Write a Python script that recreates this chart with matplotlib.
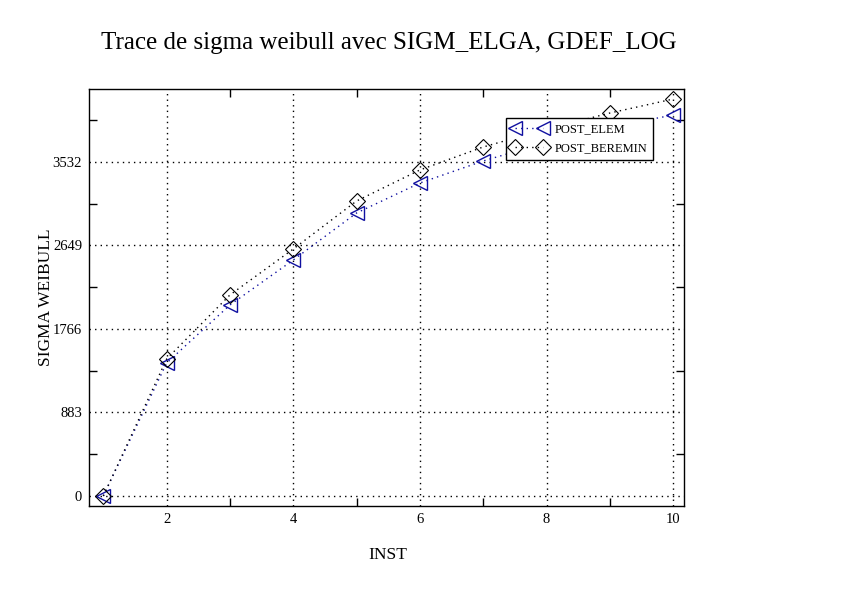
import matplotlib
matplotlib.use("Agg")
import matplotlib.pyplot as plt
from matplotlib.ticker import FixedLocator

plt.rcParams['font.family'] = ['Liberation Serif', 'DejaVu Serif']

inst = [1, 2, 3, 4, 5, 6, 7, 8, 9, 10]
post_elem = [0, 1406, 2020, 2496, 2993, 3310, 3543, 3740, 3900, 4029]
post_beremin = [0, 1449, 2126, 2612, 3120, 3448, 3691, 3880, 4050, 4198]
yticks = [0, 883, 1766, 2649, 3532]
ytick_labels = ["0", "883", "1766", "2649", "3532"]
xticks = [2, 4, 6, 8, 10]

fig = plt.figure(figsize=(8.42, 5.95), dpi=100)
ax = fig.add_axes([89/842, 1-506/595, (684-89)/842, (506-89)/595])

blue = '#1010a0'
ax.plot(inst, post_elem, linestyle=(0, (1, 3)), color=blue, lw=1.0,
        marker='<', markersize=10, markerfacecolor='none', markeredgecolor=blue,
        markeredgewidth=1.0, label='POST_ELEM')
ax.plot(inst, post_beremin, linestyle=(0, (1, 3)), color='black', lw=1.0,
        marker='D', markersize=8, markerfacecolor='none', markeredgecolor='black',
        markeredgewidth=0.8, label='POST_BEREMIN')

ax.set_xlim(0.774, 10.17)
ax.set_ylim(-106, 4304)
ax.set_xticks(xticks)
ax.set_yticks(yticks)
ax.set_yticklabels(ytick_labels)
ax.xaxis.set_minor_locator(FixedLocator([3, 5, 7, 9]))
ax.yaxis.set_minor_locator(FixedLocator([441.5, 1324.5, 2207.5, 3090.5, 3973.5]))
ax.tick_params(which='major', length=0, labelsize=10.5, pad=5)
ax.tick_params(which='minor', direction='in', length=6, width=1, top=True, right=True)
ax.grid(True, which='major', linestyle=(0, (1, 3)), color='black', lw=1.0)
for s in ax.spines.values():
    s.set_linewidth(1.0)

ax.set_xlabel('INST', fontsize=12.5)
ax.set_ylabel('SIGMA WEIBULL', fontsize=12.5)
ax.xaxis.set_label_coords((388-89)/595, -(547-506)/417)
ax.yaxis.set_label_coords((54-89)/595, 0.5)

fig.text(389/842, 1-43/595, 'Trace de sigma weibull avec SIGM_ELGA, GDEF_LOG',
         fontsize=18, ha='center', va='center')

leg = ax.legend(loc='upper left', bbox_to_anchor=((506-89)/595, 1-(118-89)/417),
                fontsize=9, numpoints=2, fancybox=False, framealpha=1,
                edgecolor='black', borderpad=0.4, handlelength=2.84,
                handletextpad=0.68, labelspacing=0.6, borderaxespad=0)
leg.get_frame().set_linewidth(1.0)

fig.savefig('out.png', dpi=100)
